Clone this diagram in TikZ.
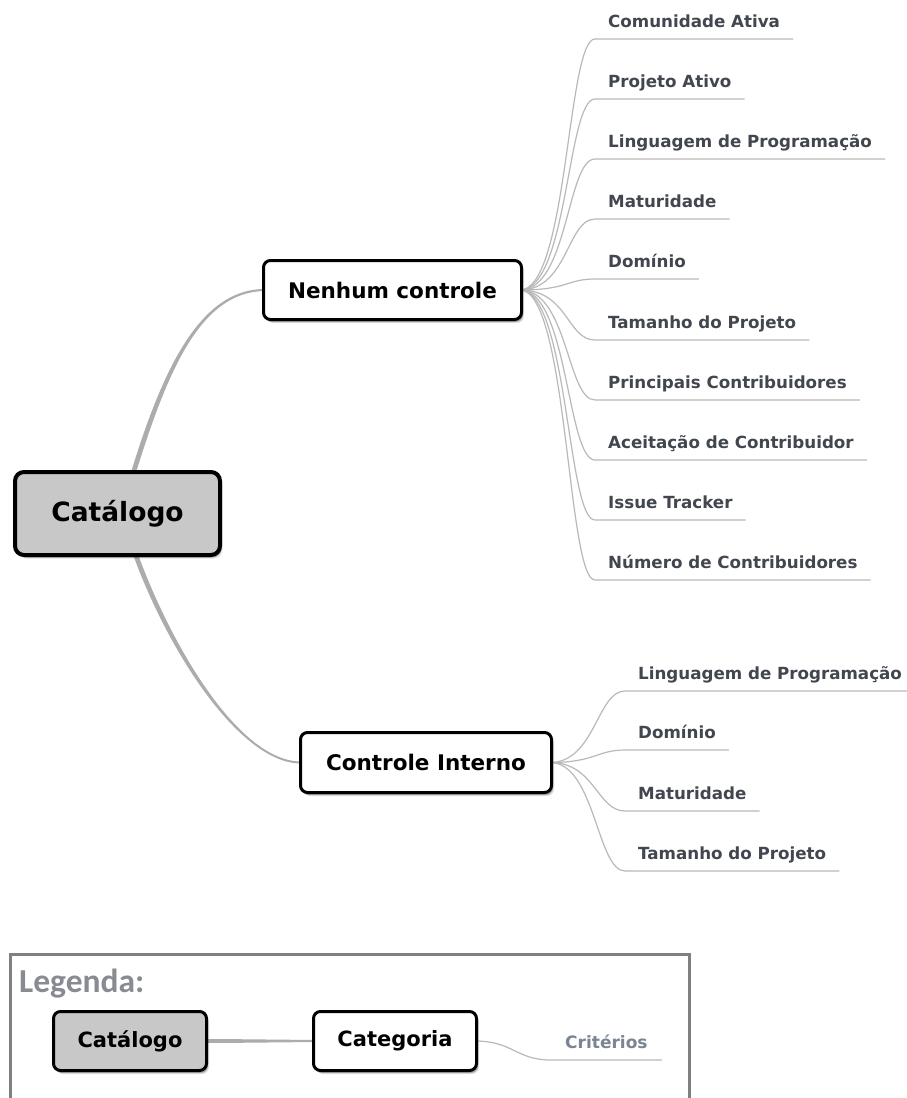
\documentclass[tikz,border=0pt]{standalone}
\usepackage{fontspec}
\usetikzlibrary{calc,shadows}
\newfontfamily\dvs{DejaVu Sans}
\newfontfamily\carl{Carlito}
\definecolor{leaftext}{RGB}{66,70,78}
\definecolor{twigcol}{RGB}{185,185,185}
\definecolor{limbcol}{RGB}{172,172,172}
\definecolor{rootfill}{RGB}{200,200,200}
\definecolor{framecol}{RGB}{128,128,128}
\definecolor{titlecol}{RGB}{136,140,146}
\definecolor{critcol}{RGB}{122,132,146}

\pgfdeclarelayer{paper}
\pgfdeclarelayer{bg}
\pgfsetlayers{paper,bg,main}

\tikzset{
  boxshadow/.style={
      drop shadow={shadow xshift=2.5pt,shadow yshift=-3.5pt,opacity=.12,fill=black},
      drop shadow={shadow xshift=1.5pt,shadow yshift=-2.5pt,opacity=.25,fill=black}},
  rootbox/.style={draw=black, line width=4pt, fill=rootfill, rounded corners=9pt,
      minimum width=205pt, minimum height=83pt, inner sep=0pt,
      font=\dvs\bfseries\fontsize{26.5}{30}\selectfont, boxshadow},
  catbox/.style={draw=black, line width=3pt, fill=white, rounded corners=7pt,
      inner sep=0pt, font=\dvs\bfseries\fontsize{21.5}{25}\selectfont, boxshadow},
  leaf/.style={inner xsep=13pt, inner ysep=11pt, text depth=0pt, anchor=south west,
      text=leaftext, font=\dvs\bfseries\fontsize{16.7}{20}\selectfont},
  twig/.style={draw=twigcol, line width=1.2pt},
  limb/.style={fill=limbcol},
}

\begin{document}
\begin{tikzpicture}[x=1pt,y=-1pt]
\useasboundingbox (0,0) rectangle (907,1098);
\clip (0,0) rectangle (907,1098);
\begin{pgfonlayer}{paper}
  \fill[white] (0,0) rectangle (907,1098);
\end{pgfonlayer}

% main nodes
\node[rootbox] (root) at (117.5,513.5) {Catálogo};
\node[catbox, minimum width=258pt, minimum height=59pt] (nc) at (392.5,290) {Nenhum controle};
\node[catbox, minimum width=251pt, minimum height=60pt] (ci) at (426,762.5) {Controle Interno};

% criteria without control
\node[leaf] (a1) at (595,39)  {Comunidade Ativa};
\node[leaf] (a2) at (595,99)  {Projeto Ativo};
\node[leaf] (a3) at (595,159) {Linguagem de Programação};
\node[leaf] (a4) at (595,219) {Maturidade};
\node[leaf] (a5) at (595,279) {Domínio};
\node[leaf] (a6) at (595,340) {Tamanho do Projeto};
\node[leaf] (a7) at (595,400) {Principais Contribuidores};
\node[leaf] (a8) at (595,460) {Aceitação de Contribuidor};
\node[leaf] (a9) at (595,520) {Issue Tracker};
\node[leaf] (a10) at (595,580) {Número de Contribuidores};

% criteria with internal control
\node[leaf] (b1) at (625,691) {Linguagem de Programação};
\node[leaf] (b2) at (625,750) {Domínio};
\node[leaf] (b3) at (625,811) {Maturidade};
\node[leaf] (b4) at (625,871) {Tamanho do Projeto};

% legend
\draw[framecol, line width=3pt] (10,954) rectangle (689,1130);
\node[anchor=base west, inner sep=0pt, text=titlecol,
      font=\carl\bfseries\fontsize{33.5}{40}\selectfont] (legtitle) at (19,992) {Legenda:};
\node[catbox, fill=rootfill, minimum width=153pt, minimum height=59pt,
      font=\dvs\bfseries\fontsize{21}{25}\selectfont] (lroot) at (130,1041) {Catálogo};
\node[catbox, minimum width=163pt, minimum height=59pt,
      font=\dvs\bfseries\fontsize{21}{25}\selectfont] (lcat) at (395,1041) {Categoria};
\node[leaf, inner xsep=14pt, text=critcol,
      font=\dvs\bfseries\fontsize{17}{20}\selectfont] (lcrit) at (551,1060) {Critérios};

\begin{pgfonlayer}{bg}
  % tapered branches from the catalogue to the categories
  \fill[limb] ($(root.north)+(13,4)$) .. controls (162.5,369) and (200,289.5) ..
      ($(nc.west)+(2,-1)$) -- ($(nc.west)+(2,1)$) .. controls (200,292.5) and (167.5,371) ..
      ($(root.north)+(18,4)$) -- cycle;
  \fill[limb] ($(root.south)+(20,-4)$) .. controls (172.5,649) and (240,761.5) ..
      ($(ci.west)+(2,-1)$) -- ($(ci.west)+(2,1)$) .. controls (240,763.5) and (167.5,651) ..
      ($(root.south)+(15,-4)$) -- cycle;

  % twigs to the criteria
  \foreach \n in {a1,a2,a3,a4,a5,a6,a7,a8,a9,a10}
    \draw[twig] ($(nc.east)+(-3,0)$) .. controls +(48,0) and +(-28,0) .. (\n.south west) -- (\n.south east);
  \foreach \n in {b1,b2,b3,b4}
    \draw[twig] ($(ci.east)+(-3,0)$) .. controls +(45,0) and +(-28,0) .. (\n.south west) -- (\n.south east);

  % legend connectors
  \fill[limb] ($(lroot.east)+(-3,-2)$) -- ($(lroot.east)+(30,-1.8)$) -- ($(lcat.west)+(3,-1)$)
      -- ($(lcat.west)+(3,1)$) -- ($(lroot.east)+(30,1.8)$) -- ($(lroot.east)+(-3,2)$) -- cycle;
  \draw[twig] ($(lcat.east)+(-3,0)$) .. controls +(38,0) and +(-35,0) .. (lcrit.south west) -- (lcrit.south east);
\end{pgfonlayer}
\end{tikzpicture}
\end{document}
